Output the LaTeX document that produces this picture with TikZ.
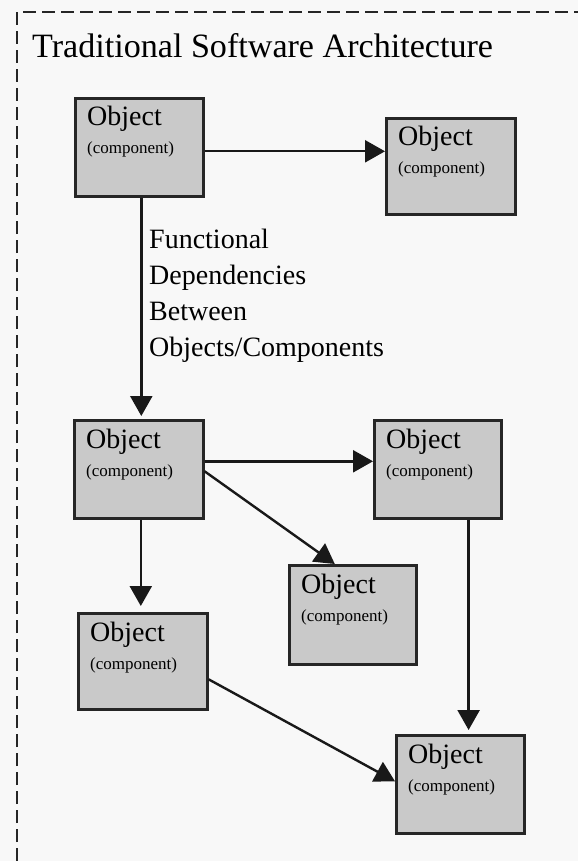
\documentclass[tikz,border=0pt]{standalone}
\usepackage{fontspec}
\setmainfont{Liberation Serif}
\usetikzlibrary{arrows.meta,calc}
\definecolor{boxgray}{RGB}{201,201,201}
\definecolor{bggray}{RGB}{248,248,248}
\tikzset{
  objbox/.style={draw=black!85, line width=2.6pt, fill=boxgray, inner sep=0pt,
    anchor=north west, rectangle},
  objtitle/.style={anchor=base west, inner sep=0pt, font=\fontsize{28}{30}\selectfont},
  objsub/.style={anchor=base west, inner sep=0pt, font=\fontsize{17}{19}\selectfont},
  arr/.style={line width=2.4pt, black!90, -{Triangle[length=20pt,width=22pt]}, shorten >=0pt},
  frame/.style={line width=2pt, black!85, dash pattern=on 13pt off 6pt}
}
\begin{document}
\begin{tikzpicture}[x=1pt,y=-1pt]
\useasboundingbox (0,0) rectangle (578,861);
\fill[bggray] (0,0) rectangle (578,861);
\draw[frame] (17,861) -- (17,12) -- (578,12);
\node[anchor=base west, inner sep=0pt, font=\fontsize{34.1}{37}\selectfont] (title) at (32,58) {Traditional Software Architecture};

% boxes
\node[objbox, minimum width=128pt, minimum height=98pt] (A) at (74,97) {};
\node[objbox, minimum width=129pt, minimum height=96pt] (B) at (385,117) {};
\node[objbox, minimum width=129pt, minimum height=98pt] (C) at (73,419) {};
\node[objbox, minimum width=127pt, minimum height=98pt] (D) at (373,419) {};
\node[objbox, minimum width=127pt, minimum height=99pt] (E) at (288,564) {};
\node[objbox, minimum width=129pt, minimum height=96pt] (F) at (77,612) {};
\node[objbox, minimum width=128pt, minimum height=98pt] (G) at (395,734) {};

\foreach \b in {A,B,C,D,E,F,G}{
  \node[objtitle] (\b t) at ($(\b.north west)+(13,29)$) {Object};
  \node[objsub] (\b s) at ($(\b.north west)+(13,57)$) {(component)};
}

% label
\node[anchor=north west, inner sep=0pt, align=left,
      font=\fontsize{28}{36}\selectfont] (lab) at (149,229)
  {Functional\\Dependencies\\Between\\Objects/Components};

% connectors
\draw[arr] ([yshift=-4pt]A.east) -- ([yshift=-4pt]A.east -| B.west);
\draw[arr] ([xshift=2pt]A.south) -- ([xshift=2pt,yshift=3pt]A.south |- C.north);
\draw[arr] ([yshift=8pt]C.east) -- ([yshift=8pt]C.east -| D.west);
\draw[arr] ([yshift=-2pt]C.east) -- ([xshift=-18pt]E.north);
\draw[arr] ([xshift=2pt]C.south) -- ([xshift=2pt,yshift=6pt]C.south |- F.north);
\draw[arr] ([xshift=-34pt]D.south east) -- ([xshift=-34pt,yshift=4pt]D.south east |- G.north);
\draw[arr] ([yshift=-18pt]F.east) -- ([yshift=3pt]G.west);
\end{tikzpicture}
\end{document}
